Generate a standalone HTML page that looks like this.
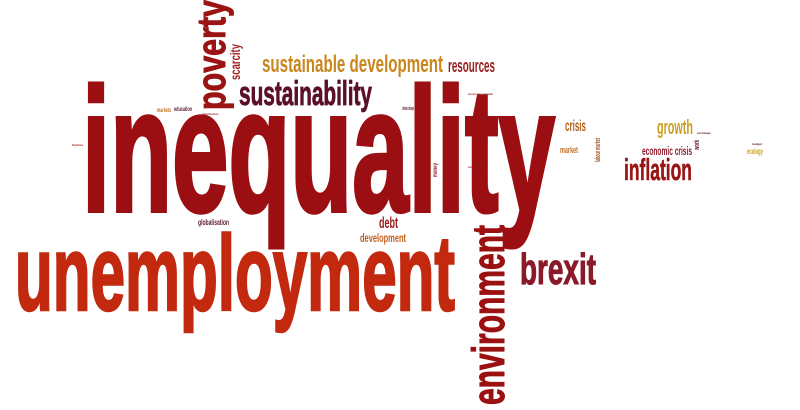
<!DOCTYPE html>
<html><head><meta charset="utf-8">
<style>
html,body{margin:0;padding:0;background:#fff;}
svg{display:block;}
text{font-family:"Liberation Sans Narrow","Liberation Sans",sans-serif;font-weight:bold;}
</style></head>
<body>
<svg width="800" height="410" viewBox="0 0 800 410">
<rect width="800" height="410" fill="#fff"/>
<text x="82" y="211" font-size="176" fill="#9b0e12" stroke="#9b0e12" stroke-width="4" textLength="473" lengthAdjust="spacingAndGlyphs">inequality</text>
<text x="15" y="310" font-size="107" fill="#c2290f" stroke="#c2290f" stroke-width="2.5" textLength="440" lengthAdjust="spacingAndGlyphs">unemployment</text>
<text transform="translate(504,405) rotate(-90)" x="0" y="0" font-size="45" fill="#9b1010" stroke="#9b1010" stroke-width="1" textLength="180" lengthAdjust="spacingAndGlyphs">environment</text>
<text x="520" y="284" font-size="44" fill="#8a1a2a" stroke="#8a1a2a" stroke-width="1" textLength="76" lengthAdjust="spacingAndGlyphs">brexit</text>
<text transform="translate(225,110) rotate(-90)" font-size="40" fill="#9b1414" stroke="#9b1414" stroke-width="1" textLength="110" lengthAdjust="spacingAndGlyphs">poverty</text>
<text transform="translate(240,80) rotate(-90)" font-size="14" fill="#a01f1f" textLength="36" lengthAdjust="spacingAndGlyphs">scarcity</text>
<text x="262" y="72" font-size="24" fill="#c8861c" textLength="181" lengthAdjust="spacingAndGlyphs">sustainable development</text>
<text x="448" y="72" font-size="18" fill="#9b1a1a" textLength="47" lengthAdjust="spacingAndGlyphs">resources</text>
<text x="239" y="105" font-size="34" fill="#5a0f2a" stroke="#5a0f2a" stroke-width="0.8" textLength="133" lengthAdjust="spacingAndGlyphs">sustainability</text>
<text x="565" y="131" font-size="16" fill="#b0601c" textLength="21" lengthAdjust="spacingAndGlyphs">crisis</text>
<text x="657" y="134" font-size="20" fill="#c8a020" textLength="36" lengthAdjust="spacingAndGlyphs">growth</text>
<text x="642" y="155" font-size="12" fill="#8a1a2a" textLength="50" lengthAdjust="spacingAndGlyphs">economic crisis</text>
<text x="624" y="180" font-size="31" fill="#9b1414" stroke="#9b1414" stroke-width="0.6" textLength="68" lengthAdjust="spacingAndGlyphs">inflation</text>
<text x="560" y="153" font-size="9" fill="#c07020" textLength="18" lengthAdjust="spacingAndGlyphs">market</text>
<text transform="translate(600,162) rotate(-90)" font-size="7" fill="#a0501c" textLength="24" lengthAdjust="spacingAndGlyphs">labour market</text>
<text transform="translate(699,150) rotate(-90)" font-size="7" fill="#5a0f2a" textLength="10" lengthAdjust="spacingAndGlyphs">work</text>
<text x="747" y="154" font-size="8" fill="#c8a020" textLength="16" lengthAdjust="spacingAndGlyphs">ecology</text>
<text x="379" y="228" font-size="16" fill="#9b1a1a" textLength="19" lengthAdjust="spacingAndGlyphs">debt</text>
<text x="360" y="242" font-size="12" fill="#c0601c" textLength="46" lengthAdjust="spacingAndGlyphs">development</text>
<text x="198" y="225" font-size="8" fill="#5a1a2a" textLength="31" lengthAdjust="spacingAndGlyphs">globalisation</text>
<text x="174" y="111" font-size="6" fill="#5a1a2a" textLength="18" lengthAdjust="spacingAndGlyphs">education</text>
<text x="157" y="112" font-size="6" fill="#c07020" textLength="14" lengthAdjust="spacingAndGlyphs">markets</text>
<text x="402" y="110" font-size="5" fill="#5a1a2a" textLength="12" lengthAdjust="spacingAndGlyphs">climate change</text>
<text transform="translate(437,177) rotate(-90)" font-size="6" fill="#8a1a2a" textLength="14" lengthAdjust="spacingAndGlyphs">money</text>
<text x="202" y="115" font-size="3" fill="#9b1a1a">distribution</text>
<text x="468" y="95" font-size="3" fill="#9b1a1a">economic growth</text>
<text x="468" y="168" font-size="3" fill="#9b1a1a">employment</text>
<text x="752" y="145" font-size="3" fill="#5a1a2a">budget</text>
<text x="697" y="134" font-size="3" fill="#5a1a2a">exchange</text>
<text x="72" y="146" font-size="3" fill="#9b1a1a">families</text>
</svg>
</body></html>
